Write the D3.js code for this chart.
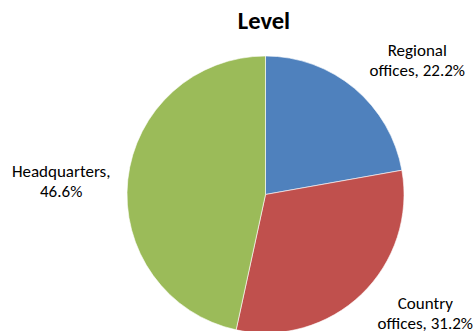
<!DOCTYPE html>
<html>
<head>
<meta charset="utf-8">
<script src="https://cdn.jsdelivr.net/npm/d3@7"></script>
<style>
  html, body { margin: 0; padding: 0; background: #fff; }
  svg { display: block; }
  text { font-family: Carlito, Calibri, "Liberation Sans", Arial, sans-serif; fill: #000; }
</style>
</head>
<body>
<svg id="chart" width="475" height="331"></svg>
<script>
// Share of staff by organisational level (percent)
const categories = ["Regional offices", "Country offices", "Headquarters"];
const shares = [22.2, 31.2, 46.6];
const colors = ["#4F81BD", "#C0504D", "#9BBB59"];
const title = "Level";

const width = 475, height = 331;
const cx = 265.5, cy = 194.5, radius = 138.5;

const svg = d3.select("#chart");

svg.append("text")
  .attr("x", 264)
  .attr("y", 28.5)
  .attr("text-anchor", "middle")
  .style("font-size", "24.5px")
  .style("font-weight", "bold")
  .text(title);

const data = categories.map((c, i) => ({ name: c, value: shares[i], color: colors[i] }));

const pie = d3.pie().value(d => d.value).sort(null);
const arc = d3.arc().innerRadius(0).outerRadius(radius);

const arcs = pie(data);
const g = svg.append("g").attr("transform", `translate(${cx},${cy})`);

g.selectAll("path")
  .data(arcs)
  .join("path")
  .attr("d", arc)
  .attr("fill", d => d.data.color)
  .attr("stroke", "#fff")
  .attr("stroke-width", 0.6);

// Labels sit outside the rim: anchored at the mid-angle just beyond the edge,
// then shifted so the text block hangs away from the pie.
const lineH = 20;
const fontSize = 17;
const nudge = { "Regional offices": [7.4, -1.1], "Country offices": [7.8, -8.8], "Headquarters": [-7.7, 22] };

arcs.forEach(d => {
  const mid = (d.startAngle + d.endAngle) / 2;
  const r = radius + 10;
  const px = Math.sin(mid) * r, py = -Math.cos(mid) * r;
  const words = d.data.name.split(" ");
  const lines = words.length > 1
    ? [words[0], words.slice(1).join(" ") + ", " + d3.format(".1f")(d.data.value) + "%"]
    : [d.data.name + ",", d3.format(".1f")(d.data.value) + "%"];
  const w = 98, h = lines.length * lineH;
  const n = nudge[d.data.name] || [0, 0];
  const bx = px + Math.sign(Math.sin(mid)) * w / 2 + n[0];
  const by = py - Math.sign(Math.cos(mid)) * h / 2 + n[1];
  const t = g.append("text")
    .attr("text-anchor", "middle")
    .style("font-size", fontSize + "px");
  lines.forEach((ln, i) => {
    t.append("tspan")
      .attr("x", bx)
      .attr("y", by - h / 2 + (i + 1) * lineH - 4)
      .text(ln);
  });
});
</script>
</body>
</html>
